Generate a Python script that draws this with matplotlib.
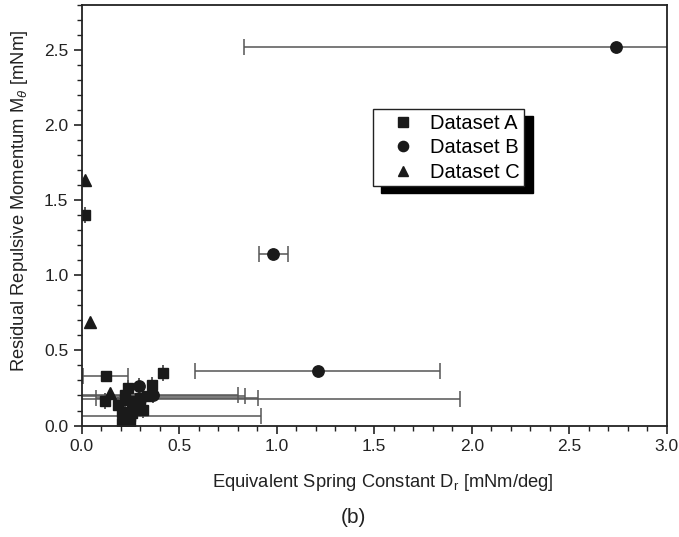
import matplotlib
matplotlib.use('Agg')
import numpy as np
from matplotlib import pyplot as plt
from matplotlib.ticker import MultipleLocator, FormatStrFormatter

plt.rcParams['font.family'] = ['Liberation Sans', 'DejaVu Sans']
plt.rcParams['mathtext.fontset'] = 'custom'
plt.rcParams['mathtext.rm'] = 'Liberation Sans'
plt.rcParams['mathtext.it'] = 'Liberation Sans:italic'

# Dataset A (squares)
a_x = [0.015, 0.123, 0.418, 0.363, 0.235, 0.118, 0.222, 0.273, 0.316, 0.205, 0.231,
       0.205, 0.248, 0.333, 0.299, 0.256, 0.188, 0.22, 0.30, 0.25, 0.26]
a_y = [1.403, 0.328, 0.351, 0.272, 0.25, 0.16, 0.171, 0.16, 0.104, 0.093, 0.037,
       0.015, 0.015, 0.198, 0.138, 0.082, 0.138, 0.2, 0.185, 0.066, 0.12]
a_err_lo = [0, 0.115, 0, 0, 0, 0, 0, 0, 0, 0, 0, 0, 0, 0.5, 0, 0, 0, 0.30, 0.225, 0.67, 0]
a_err_hi = [0, 0.115, 0, 0, 0, 0, 0, 0, 0, 0, 0, 0, 0, 0.507, 0, 0, 0, 0.58, 0.605, 0.67, 0]

# Dataset B (circles)
b_x = [2.74, 0.98, 1.21, 0.293, 0.365, 0.30]
b_y = [2.52, 1.144, 0.366, 0.261, 0.205, 0.178]
b_err_lo = [1.91, 0.07, 0.63, 0, 0, 1.64]
b_err_hi = [1.91, 0.08, 0.63, 0, 0, 1.64]

# Dataset C (triangles)
c_x = [0.019, 0.045, 0.144]
c_y = [1.636, 0.689, 0.216]
c_yerr = [0.03, 0.03, 0]

fig = plt.figure(figsize=(6.79, 5.37), dpi=100)
ax = fig.add_axes([0.1203, 0.2076, 0.8616, 0.783])

ecol = '#555555'
mcol = '#1a1a1a'
tcol = '#222222'
ax.errorbar(a_x, a_y, xerr=[a_err_lo, a_err_hi], fmt='none', ecolor=ecol,
            elinewidth=1.1, capsize=6, capthick=1.1)
ax.errorbar(b_x, b_y, xerr=[b_err_lo, b_err_hi], fmt='none', ecolor=ecol,
            elinewidth=1.1, capsize=6, capthick=1.1)
ax.errorbar(c_x, c_y, yerr=c_yerr, fmt='none', ecolor=ecol, elinewidth=0.8, capsize=0)

ax.plot(a_x, a_y, 's', color=mcol, markersize=7.5, linestyle='none', label='Dataset A')
ax.plot(b_x, b_y, 'o', color=mcol, markersize=8.2, linestyle='none', label='Dataset B')
ax.plot(c_x, c_y, '^', color=mcol, markersize=8.5, linestyle='none', label='Dataset C')

ax.set_xlim(0, 3.0)
ax.set_ylim(0, 2.8)
ax.xaxis.set_major_locator(MultipleLocator(0.5))
ax.xaxis.set_minor_locator(MultipleLocator(0.1))
ax.yaxis.set_major_locator(MultipleLocator(0.5))
ax.yaxis.set_minor_locator(MultipleLocator(0.1))
ax.xaxis.set_major_formatter(FormatStrFormatter('%.1f'))
ax.yaxis.set_major_formatter(FormatStrFormatter('%.1f'))
ax.tick_params(which='both', direction='out', top=False, right=False, colors=tcol,
               labelsize=12.5)
ax.tick_params(which='major', length=6, width=1.2)
ax.tick_params(which='minor', length=3.5, width=1)
for s in ax.spines.values():
    s.set_linewidth(1.3)
    s.set_color(tcol)

ax.set_xlabel('Equivalent Spring Constant D$_\\mathrm{r}$ [mNm/deg]', fontsize=13.2,
              color=tcol, va='center')
ax.set_ylabel('Residual Repulsive Momentum M$_\\theta$ [mNm]', fontsize=13.2,
              color=tcol, va='center')
ax.xaxis.set_label_coords(0.515, -0.136)
ax.yaxis.set_label_coords(-0.106, 0.535)
fig.text(0.52, 0.0354, '(b)', fontsize=15, color=tcol, ha='center', va='center')

leg = ax.legend(loc='upper left', bbox_to_anchor=(0.498, 0.752), fontsize=14.5,
                frameon=True, fancybox=False, edgecolor=tcol, framealpha=1,
                borderaxespad=0, borderpad=0.22, handlelength=2.5, handletextpad=0.12,
                labelspacing=0.28, markerscale=0.9,
                shadow={'ox': 6, 'oy': -4.5, 'facecolor': 'black', 'edgecolor': 'black', 'alpha': 1})
leg.get_frame().set_linewidth(1.0)

plt.savefig('out.png', dpi=100)
